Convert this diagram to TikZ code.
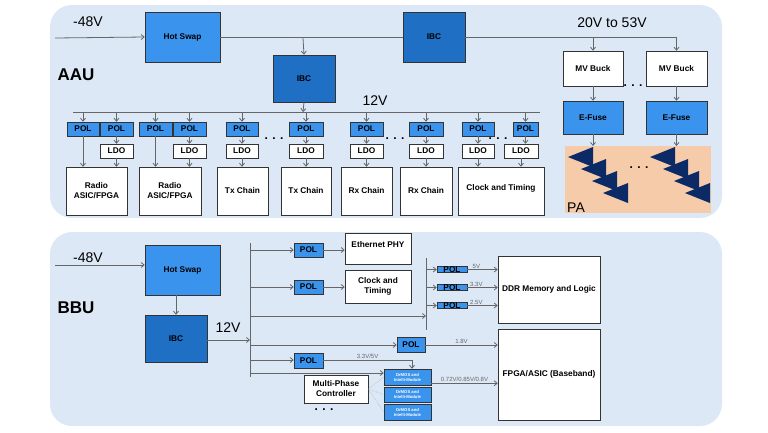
\documentclass[tikz,border=0pt]{standalone}
\usepackage{fontspec}
\setmainfont{Liberation Sans}
\usetikzlibrary{arrows.meta}
\definecolor{panel}{HTML}{DCE8F6}
\definecolor{polb}{HTML}{3A93EC}
\definecolor{ibcb}{HTML}{1F6FC4}
\definecolor{peach}{HTML}{F6CBAA}
\definecolor{navy}{HTML}{0B2A66}
\definecolor{ln}{HTML}{666666}
\tikzset{
 box/.style={draw=black!80, line width=0.5pt, inner sep=0pt, align=center, font=\bfseries\fontsize{8.3}{10}\selectfont},
 pol/.style={box, fill=polb},
 wbox/.style={box, fill=white},
 ibc/.style={box, fill=ibcb},
 ar/.style={draw=ln, line width=0.8pt, -{Straight Barb[length=3pt,width=5pt]}},
 ln/.style={draw=ln, line width=0.8pt},
 lbl/.style={font=\fontsize{6}{7}\selectfont, text=ln, inner sep=1pt},
 big/.style={font=\fontsize{14}{16}\selectfont},
 dots/.style={font=\bfseries\fontsize{12}{12}\selectfont},
}
\newcommand{\bx}[5]{\node[#1, minimum width={#4-#2}, minimum height={#5-#3}] at ({(#2+#4)/2},{(#3+#5)/2})}
\begin{document}
\begin{tikzpicture}[x=1pt,y=-1pt]
\useasboundingbox (0,0) rectangle (768,432);
\fill[panel, rounded corners=22pt] (50,5) rectangle (722,218);
\fill[panel, rounded corners=22pt] (50,232) rectangle (722,426);
% ---------- AAU ----------
\node[big] at (88,22) {-48V};
\node[font=\bfseries\fontsize{17}{18}\selectfont] at (76,75) {AAU};
\node[big] at (612,23) {20V to 53V};
\node[big] at (375,101) {12V};
\bx{pol}{145}{12}{220}{62} (hs1) {Hot Swap};
\bx{ibc}{403}{12}{465}{62} (ibc2) {IBC};
\bx{ibc}{273}{55}{335}{102} (ibc1) {IBC};
\coordinate (in1) at (55,38);
\draw[ar] (in1) -- (hs1.west);
\draw[ln] (hs1.east) -- (ibc2.west);
\coordinate (t1) at (303,38);
\draw[ar] (t1) -- (ibc1.north);
\bx{wbox}{563}{51}{623}{86} (mv1) {MV Buck};
\bx{wbox}{646}{51}{707}{86} (mv2) {MV Buck};
\bx{pol}{563}{101}{623}{134} (ef1) {E-Fuse};
\bx{pol}{646}{101}{707}{134} (ef2) {E-Fuse};
\coordinate (r1) at (593,37); \coordinate (r2) at (676.5,37);
\draw[ln] (ibc2.east|-r1) -- (r2);
\draw[ar] (r1) -- (mv1.north);
\draw[ar] (r2) -- (mv2.north);
\draw[ar] (mv1) -- (ef1);
\draw[ar] (mv2) -- (ef2);
\bx{box,draw=none,fill=peach}{565}{146}{711}{213} (pa) {};
\node[big, anchor=south west, inner sep=0pt] at (567,213) {PA};
\coordinate (p1) at (593,146); \coordinate (p2) at (676.5,146);
\draw[ar] (ef1.south) -- (p1);
\draw[ar] (ef2.south) -- (p2);
\foreach \ox in {0,82}{
 \foreach \i/\tx/\ty in {0/568/157,1/581/169,2/592/181,3/603/193}{
  \fill[navy] (\tx+\ox,\ty) -- (\tx+\ox+25,\ty-10) -- (\tx+\ox+25,\ty+10) -- cycle;
 }}
\node[dots] at (633,86) {. . .};
\node[dots] at (639,168) {. . .};
% 12V bus
\coordinate (bl) at (73,112); \coordinate (br) at (540,112);
\draw[ln] (bl) -- (br);
\coordinate (ib) at (303,112);
\draw[ar] (ibc1.south) -- (ib);
% POLs
\foreach \n/\a/\b in {1/67/99,2/100/133,3/139/172,4/173/206,5/226/258,6/289/323,7/350/383,8/409/443,9/462/494,10/513/538}{
  \bx{pol}{\a}{122}{\b}{136} (pol\n) {POL};
  \coordinate (bt\n) at ({(\a+\b)/2},112);
  \draw[ar] (bt\n) -- (pol\n.north);
}
\foreach \n/\a/\b in {2/100/133,4/173/206,5/226/258,6/289/323,7/350/383,8/409/443,9/462/494,10/504/538}{
  \bx{wbox}{\a}{144}{\b}{158} (ldo\n) {LDO};
}
\foreach \n in {2,4,5,6,7,8,9}{\draw[ar] (pol\n.south) -- (ldo\n.north);}
\draw[ar] (pol10.south) -- (pol10.south|-ldo10.north);
\bx{wbox}{66}{167}{127}{215} (ld1) {Radio\\ASIC/FPGA};
\bx{wbox}{139}{167}{201}{215} (ld2) {Radio\\ASIC/FPGA};
\bx{wbox}{217}{167}{268}{215} (ld3) {Tx Chain};
\bx{wbox}{281}{167}{331}{215} (ld4) {Tx Chain};
\bx{wbox}{341}{167}{392}{215} (ld5) {Rx Chain};
\bx{wbox}{400}{167}{452}{215} (ld6) {Rx Chain};
\bx{wbox}{458}{167}{544}{215} (ld7) {\raisebox{8pt}{Clock and Timing}};
\draw[ar] (pol1.south) -- (pol1.south|-ld1.north);
\draw[ar] (ldo2.south) -- (ldo2.south|-ld1.north);
\draw[ar] (pol3.south) -- (pol3.south|-ld2.north);
\draw[ar] (ldo4.south) -- (ldo4.south|-ld2.north);
\draw[ar] (ldo5.south) -- (ldo5.south|-ld3.north);
\draw[ar] (ldo6.south) -- (ldo6.south|-ld4.north);
\draw[ar] (ldo7.south) -- (ldo7.south|-ld5.north);
\draw[ar] (ldo8.south) -- (ldo8.south|-ld6.north);
\draw[ar] (ldo9.south) -- (ldo9.south|-ld7.north);
\draw[ar] (ldo10.south) -- (ldo10.south|-ld7.north);
\node[dots] at (274,139) {. . .};
\node[dots] at (395,139) {. . .};
\node[dots] at (498,139) {. . .};
% ---------- BBU ----------
\node[big] at (88,258) {-48V};
\node[font=\bfseries\fontsize{17}{18}\selectfont] at (76,308) {BBU};
\node[big] at (228,328) {12V};
\bx{pol}{145}{245}{220}{295} (hs2) {Hot Swap};
\bx{ibc}{145}{315}{207}{362} (ibc3) {IBC};
\coordinate (in2) at (55,265);
\draw[ar] (in2) -- (hs2.west|-in2);
\draw[ar] (hs2.south-|ibc3.north) -- (ibc3.north);
\coordinate (bT) at (250,243); \coordinate (bB) at (250,377);
\draw[ln] (bT) -- (bB);
\coordinate (b12) at (250,340);
\draw[ar] (ibc3.east|-b12) -- (b12);
\bx{pol}{294}{243}{323}{257} (bp1) {POL};
\bx{pol}{294}{280}{323}{294} (bp2) {POL};
\bx{wbox}{345}{233}{411}{264} (eth) {\raisebox{8pt}{Ethernet PHY}};
\bx{wbox}{345}{270}{411}{303} (clk) {Clock and\\Timing};
\coordinate (s1) at (250,250); \coordinate (s2) at (250,287);
\draw[ar] (s1) -- (bp1.west|-s1);
\draw[ar] (s2) -- (bp2.west|-s2);
\draw[ar] (bp1.east) -- (eth.west|-bp1.east);
\draw[ar] (bp2.east) -- (clk.west|-bp2.east);
\coordinate (b2T) at (426,258); \coordinate (b2B) at (426,330);
\draw[ln] (b2T) -- (b2B);
\coordinate (s3) at (250,316); \coordinate (e3) at (426,316);
\draw[ar] (s3) -- (e3);
\bx{wbox}{498}{256}{600}{323} (ddr) {DDR Memory and Logic};
\bx{wbox}{498}{329}{600}{420} (fpga) {FPGA/ASIC (Baseband)};
\foreach \n/\y/\v in {a/269.5/5V,b/287.5/3.3V,c/305.5/2.5V}{
  \bx{pol}{437}{\y-6.5}{467}{\y+6.5} (dp\n) {POL};
  \coordinate (d\n) at (426,\y);
  \draw[ar] (d\n) -- (dp\n.west);
  \draw[ar] (dp\n.east) -- node[lbl, above, pos=0.3] {\v} (ddr.west|-dp\n.east);
}
\bx{pol}{397}{337}{425}{352} (fp) {POL};
\coordinate (s4) at (250,345);
\draw[ar] (s4) -- (fp.west|-s4);
\draw[ar] (fp.east|-s4) -- node[lbl, above] {1.8V} (fpga.west|-s4);
\bx{pol}{294}{353}{323}{368} (bp3) {POL};
\coordinate (s5) at (250,360);
\draw[ar] (s5) -- (bp3.west|-s5);
\tikzset{dm/.style={box, fill=polb, font=\bfseries\fontsize{4.2}{5}\selectfont, text=white}}
\bx{dm}{384}{369}{431}{385} (dm1) {DrMOS and\\Intelli-Module};
\bx{dm}{384}{387}{431}{402} (dm2) {DrMOS and\\Intelli-Module};
\bx{dm}{384}{404}{431}{420} (dm3) {DrMOS and\\Intelli-Module};
\coordinate (k1) at (412,360);
\draw[ln] (bp3.east|-s5) -- node[lbl, above] {3.3V/5V} (k1);
\draw[ar] (k1) -- (dm1.north-|k1);
\coordinate (s6) at (250,373);
\draw[ar] (s6) -- (dm1.west|-s6);
\draw[ar] (dm1.east|-dm1.south) ++(0,-2) coordinate (q) -- node[lbl, above] {0.72V/0.85V/0.8V} (fpga.west|-q);
\bx{wbox}{304}{375}{368}{403} (mpc) {Multi-Phase\\Controller};
\draw[densely dotted, draw=black!40] (mpc.east) -- (dm1.west);
\draw[densely dotted, draw=black!40] (mpc.east) -- (dm2.west);
\draw[densely dotted, draw=black!40] (mpc.east) -- (dm3.west);
\node[dots, inner sep=0pt] at (324,410) {. . .};
\end{tikzpicture}
\end{document}
